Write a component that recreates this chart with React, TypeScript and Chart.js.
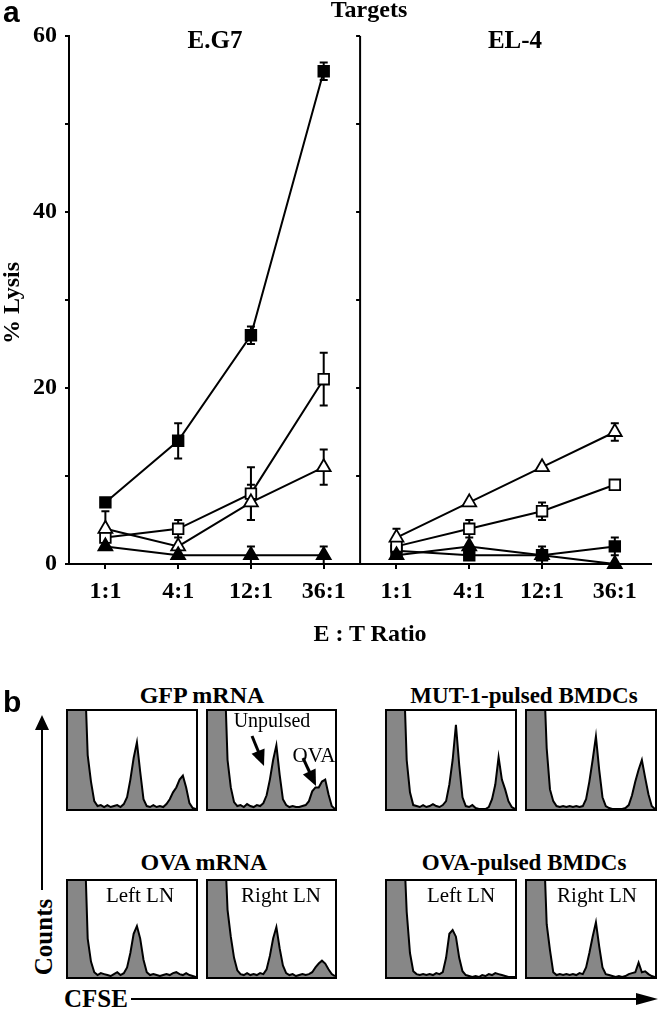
import React, { useEffect, useRef } from 'react';
import { Chart, registerables } from 'chart.js';

Chart.register(...registerables);

// ---------- Panel a data ----------
const ratios = ['1:1', '4:1', '12:1', '36:1'];
const yTickValues = [0, 10, 20, 30, 40, 50, 60];

// E.G7 targets
const eg7FilledSquare = [7, 14, 26, 56];
const eg7FilledSquareErr = [0.5, 2, 1, 1];
const eg7OpenSquare = [3, 4, 8, 21];
const eg7OpenSquareErr = [0, 1, 3, 3];
const eg7OpenTriangle = [4, 2, 7, 11];
const eg7OpenTriangleErr = [2, 0, 2, 2];
const eg7FilledTriangle = [2, 1, 1, 1];
const eg7FilledTriangleErr = [0, 0, 1, 1];

// EL-4 targets
const el4FilledSquare = [1.5, 1, 1, 2];
const el4FilledSquareErr = [0, 0, 1, 1];
const el4OpenSquare = [2, 4, 6, 9];
const el4OpenSquareErr = [0, 1, 1, 0.5];
const el4OpenTriangle = [3, 7, 11, 15];
const el4OpenTriangleErr = [1, 0, 0, 1];
const el4FilledTriangle = [1, 2, 1, 0];
const el4FilledTriangleErr = [0, 0, 0, 0];

// ---------- Panel b data (CFSE histograms, 40 bins, % of frame height) ----------
const histGfpLeft = [150, 150, 150, 150, 150, 150, 55, 28, 8, 3, 4, 2, 4, 2, 3, 4, 2, 5, 12, 30, 52, 68, 38, 10, 3, 2, 4, 2, 3, 2, 5, 10, 17, 22, 30, 34, 22, 6, 1, 0];
const histGfpRight = [150, 150, 150, 150, 150, 150, 50, 22, 7, 3, 4, 2, 5, 3, 2, 4, 3, 6, 14, 30, 50, 65, 35, 10, 4, 2, 3, 2, 2, 3, 4, 8, 18, 22, 22, 28, 30, 15, 3, 0];
const histMutLeft = [150, 150, 150, 150, 150, 150, 50, 17, 4, 3, 2, 4, 2, 3, 5, 3, 2, 4, 8, 25, 50, 86, 45, 12, 3, 2, 4, 1, 0, 0, 0, 2, 10, 25, 53, 30, 20, 8, 2, 0];
const histMutRight = [150, 150, 150, 150, 150, 150, 62, 20, 8, 3, 2, 3, 2, 3, 2, 3, 2, 3, 10, 28, 50, 74, 40, 12, 3, 1, 0, 0, 0, 0, 1, 4, 14, 28, 40, 50, 32, 15, 3, 0];
const histOvaMrnaLeft = [150, 150, 150, 150, 150, 150, 40, 16, 5, 2, 4, 3, 2, 1, 3, 5, 2, 4, 10, 25, 45, 53, 40, 18, 5, 2, 3, 2, 1, 2, 3, 2, 4, 5, 3, 2, 4, 2, 1, 0];
const histOvaMrnaRight = [150, 150, 150, 150, 150, 150, 70, 42, 20, 7, 3, 2, 4, 2, 3, 2, 4, 3, 8, 22, 40, 52, 30, 12, 4, 2, 3, 1, 2, 3, 2, 3, 5, 10, 14, 17, 14, 8, 3, 1];
const histOvaPulsedLeft = [150, 150, 150, 150, 150, 150, 68, 25, 6, 3, 2, 3, 2, 3, 2, 4, 3, 5, 20, 45, 49, 42, 20, 6, 2, 1, 0, 1, 0, 2, 1, 3, 2, 4, 3, 2, 1, 0, 0, 0];
const histOvaPulsedRight = [150, 150, 150, 150, 150, 150, 55, 28, 5, 2, 3, 2, 3, 2, 3, 2, 4, 3, 10, 25, 42, 57, 32, 10, 3, 2, 1, 0, 1, 0, 1, 3, 4, 5, 15, 5, 6, 3, 1, 0];

const SERIF = '"Liberation Serif", "Times New Roman", serif';
const SANS = '"Liberation Sans", Arial, sans-serif';

type SeriesDef = {
  left: number[]; leftErr: number[]; right: number[]; rightErr: number[];
  style: string; filled: boolean; radius: number;
};

const seriesDefs: SeriesDef[] = [
  { left: eg7FilledTriangle, leftErr: eg7FilledTriangleErr, right: el4FilledTriangle, rightErr: el4FilledTriangleErr, style: 'triangle', filled: true, radius: 8 },
  { left: eg7OpenTriangle, leftErr: eg7OpenTriangleErr, right: el4OpenTriangle, rightErr: el4OpenTriangleErr, style: 'triangle', filled: false, radius: 8 },
  { left: eg7OpenSquare, leftErr: eg7OpenSquareErr, right: el4OpenSquare, rightErr: el4OpenSquareErr, style: 'rect', filled: false, radius: 7.5 },
  { left: eg7FilledSquare, leftErr: eg7FilledSquareErr, right: el4FilledSquare, rightErr: el4FilledSquareErr, style: 'rect', filled: true, radius: 7.5 },
];

const errorBarsPlugin = {
  id: 'errorBars',
  beforeDatasetsDraw(chart: any) {
    const { ctx, scales } = chart;
    const x = scales.x, y = scales.y;
    ctx.save();
    ctx.strokeStyle = '#000';
    ctx.lineWidth = 2;
    chart.data.datasets.forEach((ds: any) => {
      (ds.errors || []).forEach((e: number, i: number) => {
        if (!e) return;
        const pt = ds.data[i];
        const px = x.getPixelForValue(pt.x);
        const top = y.getPixelForValue(pt.y + e);
        const bot = y.getPixelForValue(pt.y - e);
        ctx.beginPath();
        ctx.moveTo(px, top); ctx.lineTo(px, bot);
        ctx.moveTo(px - 4, top); ctx.lineTo(px + 4, top);
        ctx.moveTo(px - 4, bot); ctx.lineTo(px + 4, bot);
        ctx.stroke();
      });
    });
    ctx.restore();
  },
};

const midAxisPlugin = {
  id: 'midAxis',
  beforeDatasetsDraw(chart: any) {
    const { ctx, chartArea, scales } = chart;
    const px = scales.x.getPixelForValue(4);
    ctx.save();
    ctx.strokeStyle = '#000';
    ctx.lineWidth = 2;
    ctx.beginPath();
    ctx.moveTo(px, chartArea.top);
    ctx.lineTo(px, chartArea.bottom);
    yTickValues.forEach((v) => {
      const py = scales.y.getPixelForValue(v);
      ctx.moveTo(px - 4, py);
      ctx.lineTo(px, py);
    });
    ctx.stroke();
    ctx.restore();
  },
};

function LysisChart() {
  const ref = useRef<HTMLCanvasElement>(null);
  useEffect(() => {
    const datasets: any[] = [];
    seriesDefs.forEach((s) => {
      [[s.left, s.leftErr, 0], [s.right, s.rightErr, 4]].forEach(([vals, errs, off]: any) => {
        datasets.push({
          data: vals.map((v: number, i: number) => ({ x: i + 0.5 + off, y: v })),
          errors: errs,
          borderColor: '#000',
          borderWidth: 2,
          pointStyle: s.style,
          pointRadius: s.radius,
          pointBorderWidth: 1.8,
          pointBorderColor: '#000',
          pointBackgroundColor: s.filled ? '#000' : '#fff',
          tension: 0,
          clip: false,
        });
      });
    });
    const tickFont = { family: SERIF, size: 24, weight: 'bold' as const };
    const chart = new Chart(ref.current!, {
      type: 'line',
      data: { datasets },
      options: {
        responsive: false,
        animation: false,
        events: [],
        layout: { padding: { top: 36, right: 1, left: 0, bottom: 0 } },
        plugins: { legend: { display: false }, tooltip: { enabled: false } },
        scales: {
          x: {
            type: 'linear',
            min: 0,
            max: 8,
            afterBuildTicks: (s: any) => {
              s.ticks = [0, 1, 2, 3, 4, 5, 6, 7].map((i) => ({ value: i + 0.5 }));
            },
            afterFit: (s: any) => { s.height = 96; },
            ticks: {
              autoSkip: false,
              maxRotation: 0,
              padding: 8,
              color: '#000',
              font: tickFont,
              callback: (v: any) => ratios[Math.floor(Number(v)) % 4],
            },
            grid: { drawOnChartArea: false, drawTicks: true, tickLength: 5, color: '#000', lineWidth: 2 },
            border: { display: true, color: '#000', width: 2 },
          },
          y: {
            min: 0,
            max: 60,
            afterBuildTicks: (s: any) => {
              s.ticks = yTickValues.map((v) => ({ value: v }));
            },
            afterFit: (s: any) => { s.width = 69; },
            ticks: {
              padding: 8,
              color: '#000',
              font: tickFont,
              callback: (v: any) => (Number(v) % 20 === 0 ? String(v) : ''),
            },
            grid: { drawOnChartArea: false, drawTicks: true, tickLength: 4, color: '#000', lineWidth: 2 },
            border: { display: true, color: '#000', width: 2 },
          },
        },
      } as any,
      plugins: [midAxisPlugin, errorBarsPlugin],
    });
    return () => chart.destroy();
  }, []);
  return <canvas ref={ref} width={661} height={660} style={{ position: 'absolute', left: 0, top: 0 }} />;
}

function HistChart({ values, left, top, width, height }: { values: number[]; left: number; top: number; width: number; height: number }) {
  const ref = useRef<HTMLCanvasElement>(null);
  useEffect(() => {
    const chart = new Chart(ref.current!, {
      type: 'line',
      data: {
        labels: values.map((_, i) => String(i)),
        datasets: [{
          data: values,
          fill: 'origin',
          backgroundColor: '#878787',
          borderColor: '#000',
          borderWidth: 2,
          pointRadius: 0,
          tension: 0,
        }],
      },
      options: {
        responsive: false,
        animation: false,
        events: [],
        layout: { padding: 0 },
        plugins: { legend: { display: false }, tooltip: { enabled: false } },
        scales: {
          x: { display: false, offset: false },
          y: { display: false, min: 0, max: 100 },
        },
      } as any,
    });
    return () => chart.destroy();
  }, []);
  return (
    <div style={{ position: 'absolute', left, top, width, height, border: '2px solid #000', boxSizing: 'border-box', background: '#fff' }}>
      <canvas ref={ref} width={width - 4} height={height - 4} style={{ display: 'block' }} />
    </div>
  );
}

function Label({ text, x, baseline, size, bold = true, sans = false, align = 'center' }: any) {
  const ratio = sans ? 0.8465 : 0.8375;
  const tx = align === 'center' ? 'translateX(-50%)' : align === 'right' ? 'translateX(-100%)' : 'none';
  return (
    <div style={{
      position: 'absolute', left: x, top: baseline - ratio * size, fontSize: size, lineHeight: `${size}px`,
      fontFamily: sans ? SANS : SERIF, fontWeight: bold ? 700 : 400, whiteSpace: 'nowrap', transform: tx, color: '#000',
    }}>{text}</div>
  );
}

function VLabel({ text, cx, cy, size }: any) {
  return (
    <div style={{
      position: 'absolute', left: cx, top: cy, fontSize: size, lineHeight: `${size}px`, fontFamily: SERIF,
      fontWeight: 700, whiteSpace: 'nowrap', transform: 'translate(-50%, -50%) rotate(-90deg)', color: '#000',
    }}>{text}</div>
  );
}

function arrowHead(x1: number, y1: number, x2: number, y2: number, len: number, half: number) {
  const dx = x2 - x1, dy = y2 - y1;
  const d = Math.hypot(dx, dy);
  const ux = dx / d, uy = dy / d;
  const bx = x2 - ux * len, by = y2 - uy * len;
  const px = -uy * half, py = ux * half;
  return `${x2},${y2} ${bx + px},${by + py} ${bx - px},${by - py}`;
}

export default function App() {
  const boxes = [
    { v: histGfpLeft, x: 66, y: 709 },
    { v: histGfpRight, x: 206, y: 709 },
    { v: histMutLeft, x: 385, y: 709 },
    { v: histMutRight, x: 525, y: 709 },
    { v: histOvaMrnaLeft, x: 66, y: 879 },
    { v: histOvaMrnaRight, x: 206, y: 879 },
    { v: histOvaPulsedLeft, x: 385, y: 879 },
    { v: histOvaPulsedRight, x: 525, y: 879 },
  ];
  return (
    <div style={{ position: 'absolute', left: 0, top: 0, width: 661, height: 1009, background: '#fff', overflow: 'hidden' }}>
      <LysisChart />
      <Label text="a" x={3} baseline={22} size={30} sans align="left" />
      <Label text="Targets" x={369} baseline={17} size={24} />
      <Label text="E.G7" x={215} baseline={48} size={25} />
      <Label text="EL-4" x={515} baseline={48} size={25} />
      <VLabel text="% Lysis" cx={11} cy={303} size={24} />
      <Label text="E : T Ratio" x={370} baseline={641} size={24} />

      <Label text="b" x={3} baseline={712} size={30} sans align="left" />
      <Label text="GFP mRNA" x={202} baseline={703} size={24} />
      <Label text="MUT-1-pulsed BMDCs" x={524} baseline={703} size={23} />
      <Label text="OVA mRNA" x={204} baseline={870} size={24} />
      <Label text="OVA-pulsed BMDCs" x={524} baseline={870} size={23} />

      {boxes.map((b, i) => (
        <HistChart key={i} values={b.v} left={b.x} top={b.y} width={b.x === 206 ? 131 : 132} height={b.y === 709 ? 102 : 100} />
      ))}

      <Label text="Unpulsed" x={272} baseline={727} size={20} bold={false} />
      <Label text="OVA" x={314} baseline={763} size={21} bold={false} />
      <Label text="Left LN" x={140} baseline={903} size={21} bold={false} />
      <Label text="Right LN" x={281} baseline={903} size={21} bold={false} />
      <Label text="Left LN" x={461} baseline={903} size={21} bold={false} />
      <Label text="Right LN" x={597} baseline={903} size={21} bold={false} />

      <VLabel text="Counts" cx={43} cy={937} size={25} />
      <Label text="CFSE" x={64} baseline={1007} size={25} align="left" />

      <svg width={661} height={1009} style={{ position: 'absolute', left: 0, top: 0, pointerEvents: 'none' }}>
        <line x1={42} y1={726} x2={42} y2={890} stroke="#000" strokeWidth={2} />
        <polygon points={arrowHead(42, 760, 42, 715, 15, 7)} fill="#000" />
        <line x1={131} y1={999} x2={640} y2={999} stroke="#000" strokeWidth={2} />
        <polygon points={arrowHead(600, 999, 658, 999, 22, 6)} fill="#000" />
        <line x1={252} y1={736} x2={259} y2={753} stroke="#000" strokeWidth={3} />
        <polygon points={arrowHead(252, 736, 264, 766, 16, 7)} fill="#000" />
        <line x1={303} y1={758} x2={310} y2={773} stroke="#000" strokeWidth={3} />
        <polygon points={arrowHead(303, 758, 316, 786, 16, 7)} fill="#000" />
      </svg>
    </div>
  );
}
